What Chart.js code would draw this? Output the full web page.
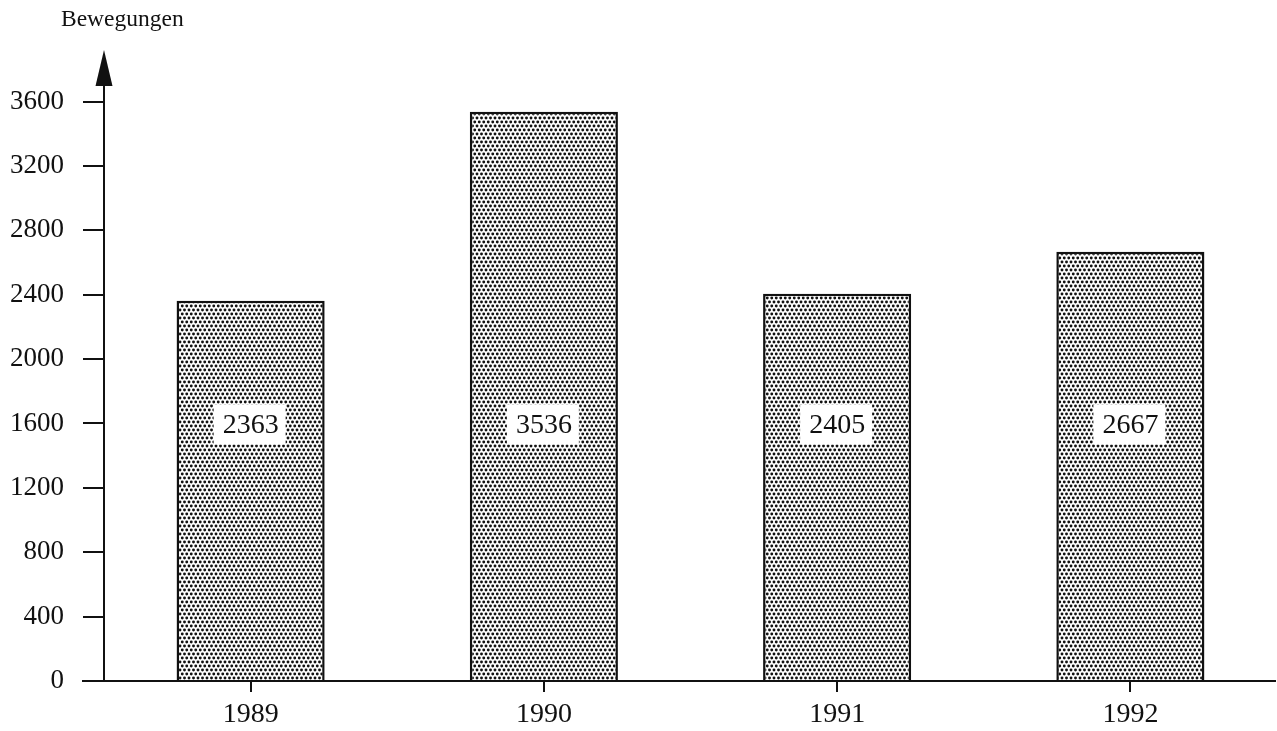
<!DOCTYPE html>
<html>
<head>
<meta charset="utf-8">
<script src="https://cdn.jsdelivr.net/npm/chart.js@4/dist/chart.umd.min.js"></script>
<style>
html,body{margin:0;padding:0;background:#fff;}
#wrap{width:1277px;height:731px;position:relative;}
</style>
</head>
<body>
<div id="wrap"><canvas id="c" width="1277" height="731"></canvas></div>
<script>
const categories = ['1989', '1990', '1991', '1992'];
const values = [2363, 3536, 2405, 2667];
const yTickValues = [0, 400, 800, 1200, 1600, 2000, 2400, 2800, 3200, 3600];
const axisTitle = 'Bewegungen';
const labelLevel = 1600;

const FONT = '"Liberation Serif", "DejaVu Serif", serif';

function makePattern() {
  const t = document.createElement('canvas');
  t.width = 9; t.height = 8;
  const g = t.getContext('2d');
  g.fillStyle = '#fff';
  g.fillRect(0, 0, 9, 8);
  g.fillStyle = '#111';
  const dots = [[2.25,2],[6.75,2],[0,6],[4.5,6],[9,6]];
  for (const [x,y] of dots) {
    g.beginPath(); g.arc(x, y, 1.45, 0, Math.PI*2); g.fill();
  }
  return document.getElementById('c').getContext('2d').createPattern(t, 'repeat');
}

const decor = {
  id: 'decor',
  afterDatasetsDraw(chart) {
    const ctx = chart.ctx;
    const y = chart.scales.y;
    const ax = chart.chartArea.left;
    const y0 = y.getPixelForValue(0);
    ctx.save();
    ctx.strokeStyle = '#111';
    ctx.lineWidth = 2;
    ctx.beginPath(); ctx.moveTo(82, y0); ctx.lineTo(1276, y0); ctx.stroke();
    ctx.beginPath(); ctx.moveTo(ax, y0); ctx.lineTo(ax, 84); ctx.stroke();
    ctx.fillStyle = '#111';
    ctx.beginPath();
    ctx.moveTo(ax, 50); ctx.lineTo(ax - 8.5, 86); ctx.lineTo(ax + 8.5, 86); ctx.closePath(); ctx.fill();
    ctx.font = '23.5px ' + FONT;
    ctx.textAlign = 'left'; ctx.textBaseline = 'middle';
    ctx.fillText(axisTitle, 61, 20);
    const meta = chart.getDatasetMeta(0);
    const ly = y.getPixelForValue(labelLevel);
    ctx.font = '28px ' + FONT;
    ctx.textAlign = 'center';
    meta.data.forEach((bar, i) => {
      const txt = String(values[i]);
      const w = 72, h = 40;
      ctx.fillStyle = '#fff';
      ctx.fillRect(bar.x - w/2 - 1, ly - h/2 + 1, w, h);
      ctx.fillStyle = '#111';
      ctx.fillText(txt, bar.x, ly + 2);
    });
    ctx.restore();
  }
};

new Chart(document.getElementById('c'), {
  type: 'bar',
  data: {
    labels: categories,
    datasets: [{
      data: values,
      backgroundColor: makePattern(),
      borderColor: '#111',
      borderWidth: 2.5,
      barPercentage: 0.505,
      categoryPercentage: 1
    }]
  },
  plugins: [decor],
  options: {
    responsive: false,
    animation: false,
    devicePixelRatio: 1,
    layout: { padding: { top: 50, left: 0, right: 0, bottom: 0 } },
    plugins: { legend: { display: false }, tooltip: { enabled: false } },
    scales: {
      x: {
        offset: true,
        grid: { display: true, offset: false, drawOnChartArea: false, drawTicks: true, tickLength: 11, color: '#111', lineWidth: 2 },
        border: { display: false },
        ticks: { color: '#111', font: { family: FONT, size: 28 }, padding: 6, maxRotation: 0 },
        afterFit(s) { s.height = 50; }
      },
      y: {
        min: 0, max: 3920,
        grid: { display: true, drawOnChartArea: false, drawTicks: true, tickLength: 21, color: '#111', lineWidth: 2 },
        border: { display: false },
        ticks: { color: '#111', font: { family: FONT, size: 27 }, padding: 19, stepSize: 400, callback: v => String(v) },
        afterBuildTicks(s) { s.ticks = yTickValues.map(v => ({ value: v })); },
        afterFit(s) { s.width = 104; }
      }
    }
  }
});
</script>
</body>
</html>
